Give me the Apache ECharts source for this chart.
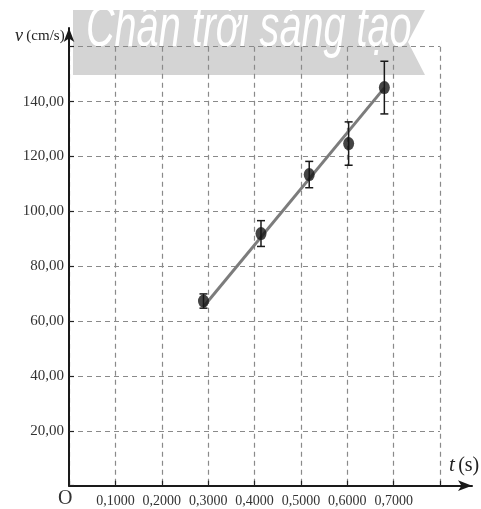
<!DOCTYPE html>
<html>
<head>
<meta charset="utf-8">
<script src="https://cdn.jsdelivr.net/npm/echarts@6/dist/echarts.min.js"></script>
<style>
  html, body { margin: 0; padding: 0; background: #fff; }
  #chart { width: 481px; height: 509px; }
</style>
</head>
<body>
<div id="chart"></div>
<script>
// measured points: time (s), speed (cm/s), error bar half-height (cm/s)
const times = [0.290, 0.414, 0.518, 0.603, 0.680];
const speeds = [67.3, 91.9, 113.4, 124.7, 145.1];
const errors = [2.6, 4.7, 4.8, 7.9, 9.6];
// fitted line end points
const fitLine = [[0.29, 65.2], [0.68, 145.0]];

const xTicks = [0, 0.1, 0.2, 0.3, 0.4, 0.5, 0.6, 0.7, 0.8];
const yTicks = [0, 20, 40, 60, 80, 100, 120, 140, 160];

const serif = '"Liberation Serif", "DejaVu Serif", serif';

const points = times.map((t, i) => [t, speeds[i]]);
const bars = times.map((t, i) => [t, speeds[i], errors[i]]);

const chart = echarts.init(document.getElementById('chart'));

const option = {
  animation: false,
  backgroundColor: '#fff',
  grid: [
    { left: 69, top: 46.7, width: 371, height: 439, outerBoundsMode: 'none' },
    { left: 69, top: 28, width: 403, height: 457.7, outerBoundsMode: 'none' }
  ],
  xAxis: [
    {
      type: 'value', gridIndex: 0, z: 10,
      min: xTicks[0], max: xTicks[xTicks.length - 1], interval: 0.1,
      axisLine: { show: false },
      axisTick: { show: true, inside: true, length: 5, lineStyle: { color: '#222', width: 1.2 } },
      splitLine: { show: true, lineStyle: { color: '#8a8a8a', type: [5, 4], width: 1.2 } },
      axisLabel: {
        margin: 9,
        color: '#333',
        fontFamily: serif,
        fontSize: 14,
        formatter: function (v) {
          if (v === 0 || Math.abs(v - 0.8) < 1e-6) return '';
          return v.toFixed(4).replace('.', ',');
        }
      }
    },
    {
      type: 'value', gridIndex: 1, min: 0, max: 1, z: 10,
      axisLine: { show: true, symbol: ['none', 'arrow'], symbolSize: [8, 14], lineStyle: { color: '#1a1a1a', width: 2 } },
      axisTick: { show: false }, axisLabel: { show: false }, splitLine: { show: false }
    }
  ],
  yAxis: [
    {
      type: 'value', gridIndex: 0, z: 10,
      min: yTicks[0], max: yTicks[yTicks.length - 1], interval: 20,
      axisLine: { show: false },
      axisTick: { show: true, inside: true, length: 5, lineStyle: { color: '#222', width: 1.2 } },
      splitLine: { show: true, lineStyle: { color: '#8a8a8a', type: [5, 4], width: 1.2 } },
      axisLabel: {
        margin: 5,
        color: '#333',
        fontFamily: serif,
        fontSize: 15,
        formatter: function (v) {
          if (v === 0 || v === 160) return '';
          return v.toFixed(2).replace('.', ',');
        }
      }
    },
    {
      type: 'value', gridIndex: 1, min: 0, max: 1, z: 10,
      axisLine: { show: true, symbol: ['none', 'arrow'], symbolSize: [8, 14], lineStyle: { color: '#1a1a1a', width: 2 } },
      axisTick: { show: false }, axisLabel: { show: false }, splitLine: { show: false }
    }
  ],
  graphic: [
    {
      type: 'polygon', z: -10,
      shape: { points: [[73, 10], [425, 10], [408, 42], [425, 75], [73, 75]] },
      style: { fill: '#d4d4d4' }
    },
    {
      type: 'text', z: -5, x: 86, y: -1, scaleX: 0.66,
      style: {
        text: 'Chân trời sáng tạo',
        fill: '#ffffff',
        font: 'italic 60px "Liberation Sans", sans-serif'
      }
    },
    {
      type: 'text', left: 15, top: 27,
      style: {
        text: '{v|v} {u|(cm/s)}',
        rich: {
          v: { fontFamily: serif, fontStyle: 'italic', fontSize: 18, fill: '#222' },
          u: { fontFamily: serif, fontSize: 15, fill: '#222' }
        }
      }
    },
    {
      type: 'text', left: 58, top: 489,
      style: { text: 'O', font: '20px "Liberation Serif", serif', fill: '#333' }
    },
    {
      type: 'text', left: 449, top: 455,
      style: {
        text: '{t|t} {p|(s)}',
        rich: {
          t: { fontFamily: serif, fontStyle: 'italic', fontSize: 21, fill: '#222' },
          p: { fontFamily: serif, fontSize: 20, fill: '#222' }
        }
      }
    }
  ],
  series: [
    {
      type: 'line', xAxisIndex: 0, yAxisIndex: 0,
      data: fitLine,
      symbol: 'none',
      lineStyle: { color: '#7c7c7c', width: 3 },
      z: 13
    },
    {
      type: 'custom', xAxisIndex: 0, yAxisIndex: 0,
      data: bars,
      z: 14,
      renderItem: function (params, api) {
        const x = api.value(0), y = api.value(1), e = api.value(2);
        const top = api.coord([x, y + e]);
        const bot = api.coord([x, y - e]);
        const cap = 4;
        const st = { stroke: '#1a1a1a', lineWidth: 1.5 };
        return {
          type: 'group',
          children: [
            { type: 'line', shape: { x1: top[0], y1: top[1], x2: bot[0], y2: bot[1] }, style: st },
            { type: 'line', shape: { x1: top[0] - cap, y1: top[1], x2: top[0] + cap, y2: top[1] }, style: st },
            { type: 'line', shape: { x1: bot[0] - cap, y1: bot[1], x2: bot[0] + cap, y2: bot[1] }, style: st }
          ]
        };
      }
    },
    {
      type: 'scatter', xAxisIndex: 0, yAxisIndex: 0,
      data: points,
      symbol: 'circle',
      symbolSize: [11, 13],
      itemStyle: { color: '#151515' },
      z: 15
    }
  ]
};

chart.setOption(option);
</script>
</body>
</html>
